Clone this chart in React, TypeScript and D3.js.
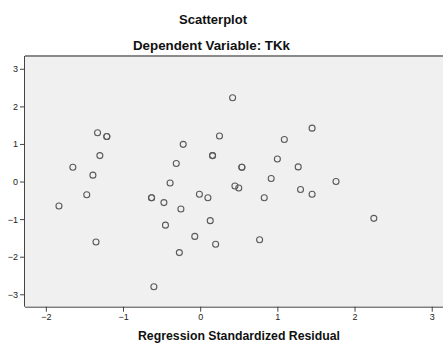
import React, { useEffect, useRef } from "react";
import * as d3 from "d3";

const residualX: number[] = [
  -1.33, -1.21, -1.21, -1.30, -1.65, -1.39, -1.47, -1.83, -0.63, -0.63,
  -1.35, -0.60, -0.47, -0.25, -0.45, -0.27, -0.07, -0.01, 0.10, 0.13,
  0.20, 0.25, -0.22, 0.16, 0.16, -0.31, 0.54, 0.54, 1.00, 0.92,
  -0.39, 0.45, 0.50, 0.83, 0.42, 1.45, 1.09, 1.27, 1.76, 1.30,
  1.45, 2.25, 0.77,
];
const dependentY: number[] = [
  1.30, 1.20, 1.20, 0.69, 0.38, 0.17, -0.35, -0.65, -0.43, -0.43,
  -1.61, -2.80, -0.56, -0.73, -1.16, -1.89, -1.46, -0.34, -0.43, -1.04,
  -1.67, 1.21, 0.99, 0.69, 0.69, 0.48, 0.38, 0.38, 0.60, 0.08,
  -0.04, -0.12, -0.17, -0.43, 2.23, 1.42, 1.12, 0.39, 0.00, -0.21,
  -0.34, -0.98, -1.55,
];
const xTicks: number[] = [-2, -1, 0, 1, 2, 3];
const yTicks: number[] = [-3, -2, -1, 0, 1, 2, 3];
const titleText = "Scatterplot";
const subtitleText = "Dependent Variable: TKk";
const xLabelText = "Regression Standardized Residual";

export default function App() {
  const ref = useRef<SVGSVGElement>(null);

  useEffect(() => {
    const svg = d3.select(ref.current);
    svg.selectAll("*").remove();
    const W = 443, H = 344;
    const left = 25, right = 446, top = 56, bottom = 306.7;

    const x = d3.scaleLinear().domain([-2.27, 3.185]).range([left, right]);
    const y = d3.scaleLinear().domain([-3.33, 3.34]).range([bottom, top]);

    svg.append("rect").attr("width", W).attr("height", H).attr("fill", "#ffffff");

    svg.append("rect")
      .attr("x", left).attr("y", top)
      .attr("width", right - left).attr("height", bottom - top)
      .attr("fill", "#f0f0f0");

    svg.append("line")
      .attr("x1", left).attr("x2", right)
      .attr("y1", top).attr("y2", top)
      .attr("stroke", "#8a8a8a").attr("stroke-width", 2);

    const font = "Arial, 'Liberation Sans', sans-serif";

    const xAxis = svg.append("g").attr("transform", `translate(0,${bottom})`)
      .call(d3.axisBottom(x).tickValues(xTicks).tickSize(5).tickPadding(2).tickFormat(d3.format("d")));
    xAxis.select(".domain").attr("stroke", "#444").attr("d", `M${left},0.5H${right}`);
    xAxis.selectAll(".tick line").attr("stroke", "#444");
    xAxis.selectAll("text").attr("font-family", font).attr("font-size", 9).attr("fill", "#222");

    const yAxis = svg.append("g").attr("transform", `translate(${left},0)`)
      .call(d3.axisLeft(y).tickValues(yTicks).tickSize(5).tickPadding(2).tickFormat(d3.format("d")));
    yAxis.select(".domain").attr("stroke", "#444").attr("d", `M-0.5,${top}V${bottom}`);
    yAxis.selectAll(".tick line").attr("stroke", "#444");
    yAxis.selectAll("text").attr("font-family", font).attr("font-size", 9).attr("fill", "#222");

    const pts = residualX.map((v, i) => ({ x: v, y: dependentY[i] }));
    svg.append("g").selectAll("circle").data(pts).join("circle")
      .attr("cx", (d) => x(d.x)).attr("cy", (d) => y(d.y))
      .attr("r", 3)
      .attr("fill", "none")
      .attr("stroke", "#5a5a5a")
      .attr("stroke-width", 1.1);

    const addText = (tx: number, ty: number, len: number, s: string) =>
      svg.append("text").attr("x", tx).attr("y", ty)
        .attr("text-anchor", "middle").attr("font-family", font)
        .attr("font-size", 12).attr("font-weight", "bold").attr("fill", "#111")
        .attr("textLength", len).attr("lengthAdjust", "spacingAndGlyphs")
        .text(s);
    addText(213, 24, 68, titleText);
    addText(211.5, 50, 157, subtitleText);
    addText(239, 340, 202, xLabelText);
  }, []);

  return (
    <svg ref={ref} width={443} height={344}
      style={{ position: "absolute", left: 0, top: 0, display: "block" }} />
  );
}
